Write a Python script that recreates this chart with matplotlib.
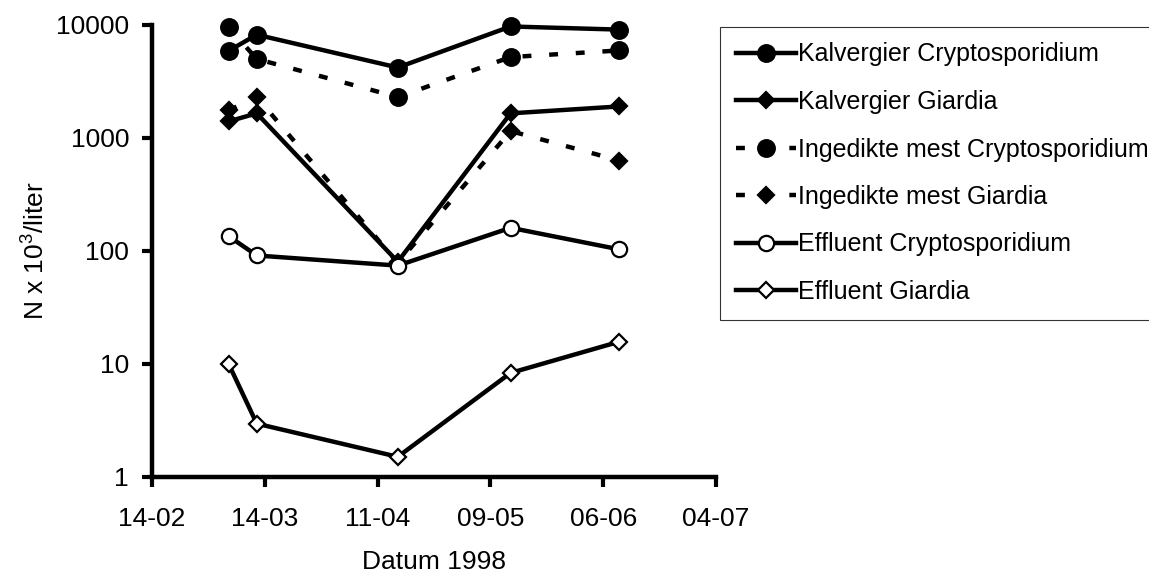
import matplotlib
matplotlib.use("Agg")
import matplotlib.pyplot as plt
import matplotlib.dates as mdates
import numpy as np

plt.rcParams['font.family'] = ['Liberation Sans', 'DejaVu Sans']
plt.rcParams['mathtext.fontset'] = 'custom'
plt.rcParams['mathtext.rm'] = 'Liberation Sans'
plt.rcParams['mathtext.it'] = 'Liberation Sans:italic'

# sampling dates (1998)
dates = np.array(['1998-03-05', '1998-03-12', '1998-04-16', '1998-05-14', '1998-06-10'],
                 dtype='datetime64[D]')

# counts, N x 10^3 per liter
kalv_crypto = [5900, 8200, 4200, 9700, 9100]
kalv_giardia = [1400, 1650, 80, 1650, 1900]
mest_crypto = [9500, 5000, 2300, 5200, 5950]
mest_giardia = [1750, 2300, 78, 1150, 630]
effl_crypto = [135, 91, 74, 160, 103]
effl_giardia = [10, 2.95, 1.5, 8.3, 15.7]

series = [
    ("Kalvergier Cryptosporidium", kalv_crypto, '-', 'o', 'black', 12),
    ("Kalvergier Giardia", kalv_giardia, '-', 'D', 'black', 8.5),
    ("Ingedikte mest Cryptosporidium", mest_crypto, '--', 'o', 'black', 12),
    ("Ingedikte mest Giardia", mest_giardia, '--', 'D', 'black', 8.5),
    ("Effluent Cryptosporidium", effl_crypto, '-', 'o', 'white', 11),
    ("Effluent Giardia", effl_giardia, '-', 'D', 'white', 8.3),
]

fig = plt.figure(figsize=(11.49, 5.77), dpi=100)
ax = fig.add_axes([0.1323, 0.1738, 0.4909, 0.7829])

for label, vals, ls, mk, fc, ms in series:
    line, = ax.plot(dates, vals, linestyle=ls, color='black', linewidth=3.2,
                    marker=mk, markersize=ms, markerfacecolor=fc,
                    markeredgecolor='black', markeredgewidth=1.6, label=label,
                    clip_on=False)
    if ls == '--':
        line.set_dashes((2.0, 4.0))

ax.set_yscale('log')
ax.set_ylim(1, 10000)
ax.set_yticks([1, 10, 100, 1000, 10000])
ax.yaxis.set_major_formatter(matplotlib.ticker.FuncFormatter(lambda v, p: f"{v:g}"))
ax.yaxis.set_minor_locator(matplotlib.ticker.NullLocator())

start = np.datetime64('1998-02-14')
ticks = [start + np.timedelta64(28 * i, 'D') for i in range(6)]
ax.set_xlim(ticks[0], ticks[-1])
ax.set_xticks(ticks)
ax.xaxis.set_major_formatter(mdates.DateFormatter('%d-%m'))

for side in ['top', 'right']:
    ax.spines[side].set_visible(False)
for side in ['left', 'bottom']:
    ax.spines[side].set_linewidth(3.2)
ax.tick_params(axis='both', which='major', length=7.5, width=3.0, labelsize=19,
               direction='out')
ax.tick_params(axis='x', pad=14)
ax.tick_params(axis='y', pad=9)

ax.set_xlabel("Datum 1998", fontsize=19, labelpad=14)
fig.text(36 / 1149, 0.565, r"N x 10$^3$/liter", rotation=90, fontsize=19,
         ha='center', va='center')

leg = fig.legend(loc='upper left', bbox_to_anchor=(720 / 1149, 1 - 27 / 577),
                 borderaxespad=0, fontsize=18, frameon=True, fancybox=False,
                 handlelength=2.4, handletextpad=0.1, labelspacing=0.94,
                 borderpad=0.62)
leg.get_frame().set_edgecolor('black')
leg.get_frame().set_linewidth(0.8)

fig.savefig("out.png", dpi=100)
